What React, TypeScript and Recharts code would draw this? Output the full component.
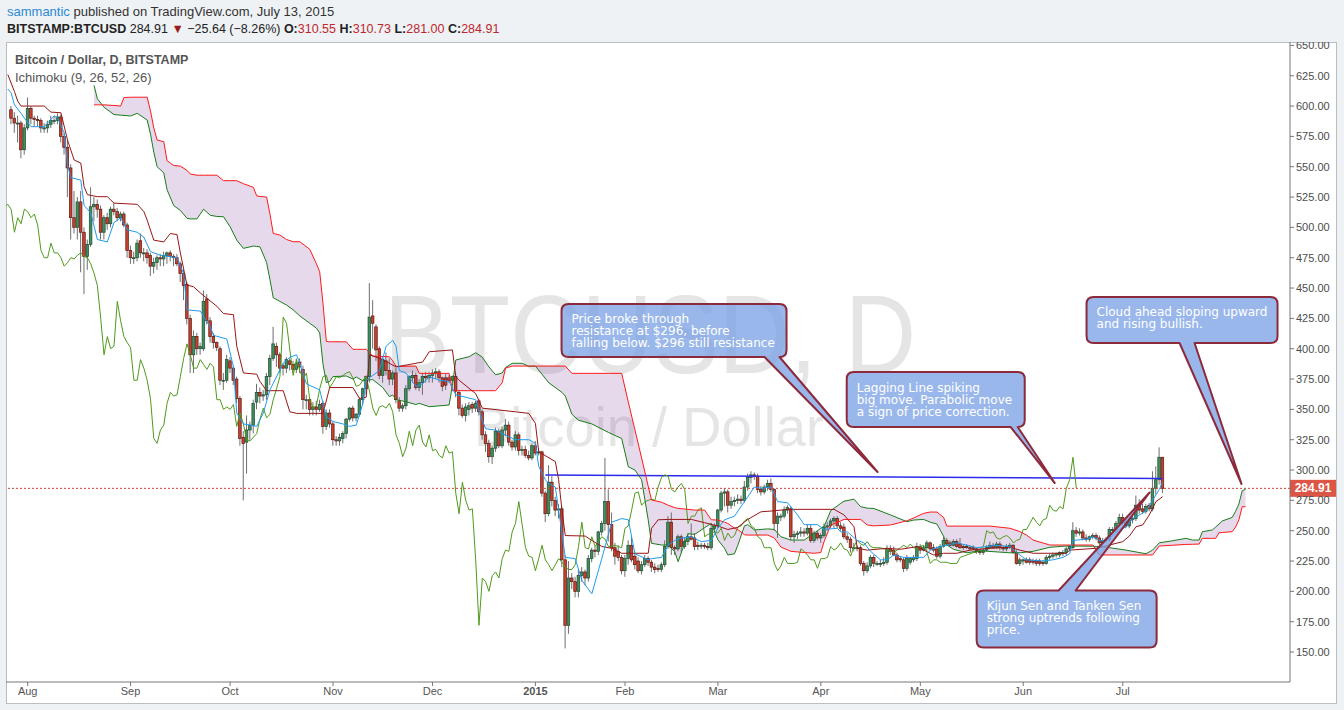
import React from 'react';
import { ComposedChart, Bar, Line, Area, XAxis, YAxis, ReferenceLine, ReferenceDot } from 'recharts';

type Candle = [number, number, number, number]; // open, high, low, close

// BITSTAMP:BTCUSD daily candles
const jul2014: Candle[] = [
  [597, 600, 585, 590], [590, 595, 578, 586], [586, 592, 570, 586], [586, 588, 557, 564], [564, 585, 560, 582],
];
const aug2014: Candle[] = [
  [582, 607, 580, 598], [598, 600, 585, 590], [590, 592, 583, 589], [589, 592, 583, 588], [588, 590, 578, 582],
  [582, 586, 578, 582], [582, 588, 578, 585], [585, 592, 582, 588], [588, 592, 585, 588], [588, 594, 585, 591],
  [591, 593, 570, 575], [575, 578, 560, 566], [566, 572, 525, 549], [549, 552, 490, 508], [508, 530, 495, 500],
  [500, 525, 490, 521], [521, 530, 463, 496], [496, 500, 445, 476], [476, 490, 465, 486], [486, 533, 484, 517],
  [517, 525, 505, 519], [519, 523, 508, 515], [515, 518, 490, 496], [496, 510, 490, 508], [508, 512, 498, 503],
  [503, 517, 500, 515], [515, 520, 510, 513], [513, 516, 505, 508], [508, 513, 505, 511], [511, 513, 500, 502],
  [502, 504, 475, 481],
];
const sep2014: Candle[] = [
  [481, 485, 470, 475], [475, 480, 470, 475], [475, 490, 472, 487], [489, 495, 475, 479], [479, 483, 472, 479],
  [479, 482, 470, 475], [477, 479, 460, 468], [468, 475, 462, 471], [471, 477, 465, 475], [475, 478, 468, 474],
  [474, 480, 468, 477], [477, 480, 470, 479], [479, 481, 472, 476], [476, 478, 468, 475], [475, 478, 468, 470],
  [470, 472, 455, 462], [462, 465, 440, 452], [453, 455, 420, 425], [425, 428, 380, 395], [395, 415, 380, 410],
  [410, 413, 395, 400], [400, 405, 395, 402], [400, 448, 398, 439], [441, 445, 420, 423], [423, 426, 405, 410],
  [410, 413, 400, 405], [405, 406, 398, 401], [400, 402, 370, 374], [374, 380, 366, 374], [374, 395, 372, 391],
];
const oct2014: Candle[] = [
  [390, 393, 380, 384], [384, 386, 370, 374], [375, 377, 355, 359], [359, 361, 320, 326], [327, 332, 275, 322],
  [323, 345, 297, 333], [333, 340, 325, 337], [337, 358, 330, 355], [356, 371, 350, 364], [364, 368, 355, 361],
  [361, 366, 357, 362], [362, 380, 358, 377], [377, 395, 370, 392], [392, 418, 390, 404], [402, 405, 385, 395],
  [395, 397, 380, 384], [386, 388, 378, 384], [384, 393, 380, 391], [390, 392, 382, 387], [387, 390, 380, 383],
  [383, 392, 380, 388], [389, 392, 380, 385], [383, 386, 350, 358], [358, 362, 350, 358], [358, 360, 345, 350],
  [350, 356, 345, 352], [352, 357, 345, 350], [350, 358, 348, 354], [355, 357, 330, 336], [336, 350, 333, 347],
  [347, 350, 335, 338],
];
const nov2014: Candle[] = [
  [338, 340, 320, 325], [325, 328, 320, 324], [324, 330, 320, 327], [326, 332, 322, 330], [330, 343, 326, 342],
  [342, 352, 340, 351], [351, 353, 340, 343], [343, 347, 340, 346], [346, 360, 344, 358], [358, 368, 354, 367],
  [367, 378, 362, 377], [377, 454, 372, 426], [427, 440, 400, 421], [418, 420, 390, 399], [400, 402, 375, 378],
  [378, 393, 372, 391], [390, 397, 378, 382], [382, 392, 370, 375], [375, 382, 370, 380], [380, 384, 355, 358],
  [357, 360, 348, 351], [351, 355, 348, 353], [353, 370, 350, 367], [367, 378, 365, 377], [376, 382, 372, 378],
  [378, 380, 366, 368], [368, 375, 365, 372], [372, 380, 362, 377], [377, 381, 372, 376], [376, 381, 372, 378],
];
const dec2014: Candle[] = [
  [378, 383, 372, 380], [380, 384, 375, 381], [381, 383, 372, 376], [376, 377, 365, 369], [376, 379, 366, 370],
  [376, 378, 372, 374], [374, 378, 372, 377], [377, 380, 360, 365], [364, 366, 345, 351], [351, 354, 343, 345],
  [345, 355, 340, 352], [350, 356, 345, 353], [354, 356, 347, 351], [351, 357, 348, 355], [357, 359, 345, 348],
  [348, 350, 325, 329], [329, 332, 315, 322], [322, 325, 306, 311], [311, 320, 305, 318], [318, 335, 315, 332],
  [332, 334, 318, 320], [320, 336, 318, 333], [333, 342, 328, 337], [337, 340, 320, 323], [323, 325, 316, 319],
  [319, 332, 316, 329], [329, 331, 312, 316], [316, 320, 312, 317], [317, 320, 310, 312], [312, 316, 308, 310],
  [310, 322, 308, 320],
];
// Jan 5-8 missing (exchange halted)
const jan2015: Candle[] = [
  [320, 324, 312, 314], [314, 318, 312, 315], [315, 316, 278, 281], [281, 283, 257, 264],
  [264, 304, 262, 290], [290, 295, 270, 275], [275, 278, 262, 267], [267, 272, 260, 268], [268, 270, 220, 226],
  [226, 230, 153, 172], [172, 225, 165, 211], [211, 215, 202, 208], [208, 212, 195, 200], [200, 218, 195, 213],
  [213, 220, 208, 216], [216, 218, 205, 211], [211, 230, 208, 227], [227, 236, 224, 234], [234, 237, 228, 233],
  [233, 250, 230, 249], [249, 258, 246, 256], [256, 310, 250, 274], [274, 284, 241, 255], [255, 265, 233, 236],
  [236, 240, 222, 229], [233, 238, 225, 228], [228, 230, 214, 217],
];
const feb2015: Candle[] = [
  [217, 230, 212, 227], [227, 242, 222, 238], [238, 245, 224, 226], [229, 232, 218, 222], [225, 228, 215, 217],
  [217, 225, 214, 222], [222, 230, 220, 227], [227, 229, 221, 224], [224, 226, 216, 220], [220, 223, 215, 218],
  [219, 222, 216, 218], [218, 224, 216, 222], [222, 242, 220, 237], [237, 262, 235, 257], [257, 265, 230, 236],
  [236, 238, 230, 235], [235, 247, 233, 245], [245, 247, 232, 237], [237, 244, 235, 241], [241, 248, 238, 245],
  [245, 256, 242, 243], [244, 248, 234, 237], [238, 241, 234, 237], [238, 240, 235, 238], [238, 240, 235, 237],
  [237, 240, 234, 236], [236, 256, 234, 252], [252, 256, 250, 254],
];
const mar2015: Candle[] = [
  [254, 268, 252, 267], [267, 283, 265, 281], [281, 285, 270, 282], [282, 284, 265, 271], [271, 278, 268, 274],
  [274, 278, 270, 275], [275, 280, 272, 276], [276, 279, 272, 275], [275, 291, 273, 286], [286, 297, 283, 294],
  [294, 299, 289, 296], [296, 298, 292, 295], [295, 297, 281, 284], [284, 287, 279, 282], [282, 288, 280, 286],
  [286, 292, 283, 289], [289, 293, 282, 284], [284, 285, 250, 256], [256, 265, 244, 262], [262, 264, 258, 262],
  [262, 270, 260, 267], [267, 271, 264, 269], [268, 270, 242, 245], [245, 250, 240, 247], [247, 250, 243, 248],
  [248, 253, 245, 249], [249, 252, 245, 248], [248, 255, 246, 252], [252, 255, 240, 242], [242, 250, 240, 248],
  [248, 250, 242, 244],
];
const apr2015: Candle[] = [
  [244, 248, 240, 246], [246, 256, 244, 253], [253, 257, 250, 254], [254, 260, 252, 258], [258, 262, 252, 260],
  [260, 262, 252, 254], [254, 257, 250, 252], [253, 256, 243, 245], [245, 248, 240, 243], [243, 245, 232, 236],
  [236, 240, 233, 236], [236, 238, 233, 236], [236, 238, 221, 223], [223, 225, 213, 217], [217, 224, 215, 221],
  [221, 230, 219, 228], [228, 230, 220, 223], [223, 225, 221, 223], [223, 226, 220, 223], [223, 228, 221, 224],
  [224, 238, 222, 235], [235, 238, 230, 233], [234, 237, 229, 230], [230, 232, 224, 226], [227, 229, 224, 226],
  [226, 228, 216, 219], [219, 230, 217, 227], [224, 228, 222, 227], [226, 230, 224, 228], [227, 240, 225, 237],
];
const may2015: Candle[] = [
  [237, 239, 231, 234], [234, 238, 233, 236], [236, 242, 233, 240], [240, 241, 234, 235], [236, 239, 232, 234],
  [235, 237, 227, 229], [229, 239, 227, 237], [237, 245, 236, 242], [242, 244, 238, 239], [240, 242, 237, 238],
  [238, 243, 237, 241], [241, 243, 236, 237], [239, 244, 235, 236], [237, 239, 234, 236], [237, 239, 235, 236],
  [236, 238, 234, 235], [236, 238, 234, 235], [235, 236, 231, 233], [233, 235, 230, 232], [232, 236, 230, 234],
  [234, 238, 233, 236], [236, 241, 235, 238], [238, 240, 235, 236], [236, 241, 235, 239], [239, 241, 234, 236],
  [236, 238, 233, 235], [235, 239, 233, 237], [237, 240, 235, 238], [238, 239, 231, 232], [232, 234, 222, 223],
  [223, 228, 221, 226],
];
const jun2015: Candle[] = [
  [225, 227, 222, 226], [226, 228, 223, 224], [226, 228, 222, 224], [225, 227, 222, 224], [225, 227, 221, 223],
  [225, 227, 221, 223], [224, 226, 221, 223], [223, 230, 222, 228], [228, 231, 226, 229], [229, 232, 227, 230],
  [230, 232, 228, 231], [230, 233, 228, 232], [231, 234, 229, 232], [232, 237, 230, 235], [235, 238, 233, 237],
  [236, 257, 235, 250], [250, 253, 245, 248], [248, 252, 246, 249], [249, 251, 242, 244], [244, 247, 241, 243],
  [243, 246, 241, 245], [245, 248, 243, 246], [246, 248, 242, 244], [244, 246, 238, 240], [240, 244, 238, 242],
  [242, 245, 240, 243], [243, 253, 241, 251], [250, 253, 247, 251], [251, 258, 248, 256], [256, 264, 254, 261],
];
const jul2015: Candle[] = [
  [261, 264, 255, 257], [257, 260, 252, 254], [254, 261, 252, 259], [259, 262, 256, 260], [260, 279, 258, 271],
  [271, 276, 264, 267], [268, 272, 264, 266], [266, 272, 264, 270], [271, 273, 266, 268], [268, 299, 266, 285],
  [285, 303, 280, 292], [292, 318.7, 288, 310.55], [310.55, 310.73, 281, 284.91],
];

const monthCandles = [jul2014, aug2014, sep2014, oct2014, nov2014, dec2014, jan2015, feb2015, mar2015, apr2015, may2015, jun2015, jul2015];
const monthLabels = ['', 'Aug', 'Sep', 'Oct', 'Nov', 'Dec', '2015', 'Feb', 'Mar', 'Apr', 'May', 'Jun', 'Jul'];
const FIRST_BAR = -5;
const LAG = 26;

// Ichimoku lines: [bar, price]
const tenkanPts: [number, number][] = [
  [-6, 614], [-5, 611], [-4, 601], [-2, 594], [-1, 590], [1, 583], [5, 583], [8, 592], [9, 590], [11, 578],
  [12, 551], [13, 541], [16, 539], [17, 518], [19, 512], [21, 490], [24, 488], [26, 504], [28, 508], [30, 498],
  [33, 496], [35, 492], [37, 480], [40, 477], [45, 475], [47, 462], [48, 432], [52, 431], [55, 418], [56, 411],
  [60, 408], [62, 385], [63, 347], [65, 338], [69, 336], [71, 347], [73, 366], [77, 388], [79, 393], [81, 395],
  [82, 388], [84, 371], [88, 366], [90, 344], [92, 340], [95, 338], [97, 336], [99, 337], [101, 355], [102, 374],
  [106, 382], [108, 402], [110, 407], [111, 402], [112, 382], [114, 380], [117, 369], [119, 371], [121, 377], [124, 374],
  [127, 373], [129, 362], [132, 360], [135, 358], [137, 341], [138, 334], [141, 333], [143, 330], [147, 325], [151, 325],
  [153, 322], [154, 303], [156, 292], [157, 289], [159, 286], [160, 267], [161, 248], [162, 228], [165, 227], [167, 209],
  [170, 198], [173, 227], [176, 257], [179, 260], [181, 259], [183, 231], [187, 226], [188, 227], [191, 228], [193, 238],
  [195, 242], [197, 244], [200, 245], [203, 241], [206, 242], [208, 252], [210, 259], [213, 262], [215, 270], [217, 278],
  [219, 286], [221, 285], [224, 286], [226, 274], [229, 273], [232, 263], [234, 255], [238, 255], [240, 251], [244, 252],
  [245, 249], [247, 249], [250, 242], [252, 240], [254, 233], [257, 226], [259, 226], [261, 230], [264, 228], [270, 228],
  [272, 234], [274, 236], [277, 238], [280, 240], [283, 238], [286, 236], [289, 237], [292, 238], [296, 237], [299, 230],
  [301, 226], [306, 225], [309, 226], [312, 228], [314, 231], [315, 242], [319, 243], [321, 245], [323, 242], [325, 242],
  [327, 246], [329, 251], [331, 253], [333, 260], [335, 263], [337, 266], [339, 275], [341, 284], [342, 290],
];
const kijunPts: [number, number][] = [
  [-6, 626], [-4, 612], [-3, 604], [-2, 600], [5, 600], [7, 595], [10, 594.5], [12, 572], [14, 555.5], [16, 553],
  [17, 533.5], [18, 527], [21, 525.3], [24, 525.3], [26, 520], [33, 519], [35, 513], [36, 506], [38, 489.5], [41, 488],
  [43, 495], [45, 494], [46, 479], [48, 452.5], [50, 451], [52, 446], [57, 435], [59, 429], [62, 428], [63, 402],
  [65, 380], [69, 379], [70, 373], [72, 365.4], [77, 365.4], [79, 348], [81, 346.7], [89, 346.7], [91, 368], [98, 368],
  [100, 359], [102, 360], [103, 395], [107, 391], [111, 385], [117, 388], [119, 389], [121, 397.5], [128, 399], [129, 377],
  [130, 374], [135, 363], [137, 351], [142, 349.5], [147, 348], [151, 346.7], [153, 338.5], [154, 315], [159, 307], [160, 292],
  [161, 267], [162, 246], [168, 245.6], [170, 242], [173, 237], [176, 235.5], [179, 231.4], [187, 231.4], [188, 252], [190, 259],
  [193, 259.3], [200, 259.3], [204, 256.6], [208, 253.8], [211, 251], [214, 252.8], [217, 259.3], [221, 265.6], [225, 266.4], [229, 267.6],
  [243, 267.6], [246, 263], [249, 253.3], [250, 235.5], [253, 234], [259, 235.5], [263, 234.7], [268, 236.8], [271, 232.7], [273, 230],
  [276, 231.4], [280, 231.4], [284, 234], [290, 235.5], [296, 236.3], [299, 234], [303, 231.4], [313, 231.4], [314, 234], [322, 235.5],
  [326, 238.2], [330, 241], [332, 245.6], [334, 253.3], [336, 254.7], [338, 263], [340, 274], [342, 278],
];
// leading spans as drawn (already shifted forward): [bar, senkou A, senkou B]
const cloudPts: [number, number, number][] = [
  [20, 617, 601], [21, 606, 601], [23, 599, 601], [26, 593, 600.5], [28, 592.5, 600], [29, 592.3, 607], [31, 591.8, 607.3],
  [33, 594, 607.3], [36, 588.5, 607.3], [37, 577, 596], [38, 562, 582], [39, 550, 572], [41, 545, 570.6], [42, 531, 555],
  [44, 518, 551], [46, 514, 550.5], [48, 507.5, 547], [49, 507, 544], [51, 507, 543], [53, 515, 543], [55, 510, 543],
  [57, 509, 543], [59, 508.8, 538.5], [61, 500.5, 538.5], [63, 489.5, 538.5], [65, 482.7, 536], [68, 484.6, 533], [69, 484.3, 526],
  [70, 484, 525.5], [72, 471, 525], [73, 457, 511], [74, 442, 495], [76, 439, 493.7], [78, 436, 490], [80, 432, 488.2],
  [82, 427, 488.2], [85, 421, 482], [87, 417, 470], [88, 413, 463.4], [89, 387, 437], [90, 372, 406], [91, 373, 405.7],
  [92, 377, 405.7], [96, 377.5, 405.7], [98, 375, 399.5], [99, 376.7, 399.5], [101, 373.5, 399.5], [102, 374, 399.5], [104, 374.5, 394],
  [107, 368, 393.6], [109, 360.5, 393.4], [110, 361.8, 390], [111, 358, 385.5], [114, 356.3, 385.5], [117, 354, 385.7], [118, 355, 379.7],
  [121, 352.2, 379.7], [127, 353.6, 379.7], [128, 370, 365.4], [129, 390.7, 365.4], [133, 393.4, 365.4], [135, 396.7, 365.4], [137, 393, 365.4],
  [139, 385, 365.4], [141, 378.5, 365.4], [143, 380, 372], [144, 384.5, 384], [146, 388, 385.7], [149, 388, 385.7], [151, 385.5, 385.7],
  [153, 385.7, 385.7], [157, 372, 385.7], [161, 364, 385.7], [162, 361, 385.7], [164, 346, 379.7], [166, 341, 379.7], [170, 338, 379.7],
  [175, 331, 379.7], [179, 326, 379.7], [181, 302.7, 356], [183, 300, 333], [185, 292, 310], [187, 258.8, 286.6], [188, 239.6, 275.3],
  [191, 238.2, 273.5], [193, 238.2, 271], [195, 232.7, 269], [196, 224.4, 268.4], [199, 247.5, 267.6], [201, 247, 267], [204, 252.5, 267],
  [206, 256, 259], [208, 242.5, 258.8], [210, 235.5, 257], [211, 230, 256], [213, 231, 252], [214, 238, 251], [216, 254, 246.7],
  [217, 255, 246.4], [219, 250.6, 246.4], [223, 251.5, 246.4], [225, 251, 244], [227, 245, 236.5], [230, 242.3, 233], [234, 242.3, 232],
  [237, 248, 231.4], [239, 252, 232], [240, 253.5, 241], [242, 266.5, 254.7], [245, 272.5, 258], [246, 274.3, 259.3], [249, 276, 259.3],
  [251, 269.8, 259.3], [253, 268.6, 254.7], [255, 268.3, 254], [260, 263, 254.7], [265, 257.4, 258.2], [267, 258.8, 260.5], [270, 259.3, 264.3],
  [272, 257, 265.4], [274, 255.5, 265.4], [276, 245.5, 261], [277, 238.2, 253.8], [279, 234.7, 253.8], [283, 231.8, 253.8], [287, 233.5, 253.8],
  [290, 232.9, 253.8], [296, 231.8, 252], [299, 231.8, 249.3], [301, 232.4, 246.4], [303, 233, 242.3], [308, 236.3, 238.2], [313, 237.4, 238.2],
  [321, 237.2, 238.2], [322, 237, 234], [323, 237, 230], [326, 236, 230], [331, 234, 230], [337, 231, 230], [339, 234, 230],
  [341, 240, 237.4], [345, 241.7, 238], [349, 243.7, 238.7], [351, 242.3, 238.8], [353, 242.3, 239], [354, 249.2, 243.7], [357, 250.6, 243.7],
  [358, 253, 243.7], [359, 255.5, 248.3], [360, 258, 248.5], [363, 261, 249.2], [364, 266, 253], [365, 272, 259], [366, 283, 269.8],
  [367, 284.1, 269.8],
];

const priceTicks = [150, 175, 200, 225, 250, 275, 300, 325, 350, 375, 400, 425, 450, 475, 500, 525, 550, 575, 600, 625, 650];
const resistance = [{ bar: 156, price: 296 }, { bar: 342, price: 293 }];

const notes = [
  { bar: 256.1, price: 298.4, lines: ['Price broke through', 'resistance at $296, before', 'falling below. $296 still resistance'] },
  { bar: 309.5, price: 289.3, lines: ['Lagging Line spiking', 'big move. Parabolic move', 'a sign of price correction.'] },
  { bar: 365.8, price: 288.5, lines: ['Cloud ahead sloping upward', 'and rising bullish.'] },
  { bar: 338.1, price: 281.5, lines: ['Kijun Sen and Tanken Sen', 'strong uptrends following', 'price.'] },
];
// box offsets from the pointer tip, in px
const noteLayout = [
  { dx: -316, dy: -168, w: 225, h: 53, side: 'bottom', b1: -113, b2: -98 },
  { dx: -208, dy: -111, w: 178, h: 55, side: 'bottom', b1: -44, b2: -31 },
  { dx: -155, dy: -187, w: 191, h: 46, side: 'bottom', b1: -62, b2: -47 },
  { dx: -173, dy: 98, w: 180, h: 57, side: 'top', b1: -91, b2: -74 },
];

type Row = { [k: string]: any; bar: number };
const rows = new Map<number, Row>();
const at = (b: number): Row => {
  let r = rows.get(b);
  if (!r) { r = { bar: b }; rows.set(b, r); }
  return r;
};
const monthTicks: { bar: number; label: string }[] = [];
let cursor = FIRST_BAR;
monthCandles.forEach((list, m) => {
  if (monthLabels[m]) monthTicks.push({ bar: cursor, label: monthLabels[m] });
  list.forEach(([o, h, l, c]) => {
    Object.assign(at(cursor), { o, h, l, c, range: [l, h] });
    at(cursor - LAG).lag = c;
    cursor++;
  });
});
tenkanPts.forEach(([b, v]) => { at(b).tenkan = v; });
kijunPts.forEach(([b, v]) => { at(b).kijun = v; });
cloudPts.forEach(([b, a, s]) => { Object.assign(at(b), { spanA: a, spanB: s, cloud: [a, s] }); });
const data = Array.from(rows.values()).sort((p, q) => p.bar - q.bar);
const tickLabel = new Map(monthTicks.map((t) => [t.bar, t.label]));

const last = jul2015[jul2015.length - 1];
const prevClose = jul2015[jul2015.length - 2][3];
const change = last[3] - prevClose;
const changePct = (change / prevClose) * 100;

const FONT = '"Liberation Sans", Arial, sans-serif';

const CandleShape = (props: any) => {
  const { x, y, width, height, payload } = props;
  if (!payload || payload.o == null || !isFinite(y)) return <g />;
  const { o, h, l, c } = payload;
  const ppu = h > l ? height / (h - l) : 0;
  const cx = x + width / 2;
  const yO = y + (h - o) * ppu;
  const yC = y + (h - c) * ppu;
  const up = c >= o;
  const top = Math.min(yO, yC);
  const bh = Math.max(Math.abs(yO - yC), 1);
  return (
    <g>
      <line x1={cx} x2={cx} y1={y} y2={y + height} stroke="#6e6e6e" strokeWidth={1} />
      <rect x={cx - 1.3} y={top} width={2.6} height={bh} fill={up ? '#3f8f5e' : '#c9402e'} stroke={up ? '#1f4a30' : '#5a1a12'} strokeWidth={0.7} />
    </g>
  );
};

const MonthTick = (props: any) => {
  const { x, y, payload } = props;
  const label = tickLabel.get(payload.value) ?? '';
  return (
    <text x={x} y={y + 7} textAnchor="middle" fontSize={11} fill="#555" fontFamily={FONT} fontWeight={label === '2015' ? 700 : 400}>
      {label}
    </text>
  );
};

function calloutPath(x: number, y: number, w: number, h: number, r: number, side: string, b1: number, b2: number, tx: number, ty: number) {
  const lo = Math.max(b1, x + r);
  const hi = Math.min(b2, x + w - r);
  let d = `M${x + r},${y}`;
  if (side === 'top') d += ` L${lo},${y} L${tx},${ty} L${hi},${y}`;
  d += ` L${x + w - r},${y} Q${x + w},${y} ${x + w},${y + r} L${x + w},${y + h - r} Q${x + w},${y + h} ${x + w - r},${y + h}`;
  if (side === 'bottom') d += ` L${hi},${y + h} L${tx},${ty} L${lo},${y + h}`;
  d += ` L${x + r},${y + h} Q${x},${y + h} ${x},${y + h - r} L${x},${y + r} Q${x},${y} ${x + r},${y} Z`;
  return d;
}

const makeCallout = (i: number) => (p: any) => {
  const { cx, cy } = p;
  const L = noteLayout[i];
  const bx = cx + L.dx;
  const by = cy + L.dy;
  const d = calloutPath(bx, by, L.w, L.h, 7, L.side, cx + L.b1, cx + L.b2, cx, cy);
  return (
    <g>
      <path d={d} fill="#7ea3e6" fillOpacity={0.78} stroke="#8c2a3c" strokeWidth={2} strokeLinejoin="round" />
      {notes[i].lines.map((t, k) => (
        <text key={k} x={bx + 10} y={by + 19.5 + k * 12} fill="#ffffff" fontSize={12} fontFamily='"DejaVu Sans", Verdana, sans-serif'>
          {t}
        </text>
      ))}
    </g>
  );
};

const PriceTag = (p: any) => {
  const vb = p.viewBox || {};
  const x = (vb.x ?? 0) + (vb.width ?? 0);
  const y = vb.y ?? 0;
  return (
    <g>
      <rect x={x} y={y - 8.5} width={46} height={17} fill="#dd5544" />
      <text x={x + 23} y={y + 4} textAnchor="middle" fill="#fff" fontSize={12} fontWeight={700} fontFamily={FONT}>
        {last[3].toFixed(2)}
      </text>
    </g>
  );
};

export default function App() {
  const red = { color: '#c0262d' };
  return (
    <div style={{ position: 'absolute', left: 0, top: 0, width: 1344, height: 710, background: '#eff2f5', fontFamily: FONT, overflow: 'hidden' }}>
      <div style={{ position: 'absolute', left: 7, top: 3, fontSize: 13, lineHeight: '17px', color: '#333', whiteSpace: 'nowrap' }}>
        <span style={{ color: '#2a8ad6' }}>sammantic</span> published on TradingView.com, July 13, 2015
      </div>
      <div style={{ position: 'absolute', left: 7, top: 21, fontSize: 12.5, lineHeight: '17px', color: '#222', whiteSpace: 'nowrap' }}>
        <b>BITSTAMP:BTCUSD</b> {last[3].toFixed(2)} <span style={{ color: '#9b1b1b' }}>▼</span> −{Math.abs(change).toFixed(2)} (−{Math.abs(changePct).toFixed(2)}%){' '}
        <b>O:</b><span style={red}>{last[0].toFixed(2)}</span> <b>H:</b><span style={red}>{last[1].toFixed(2)}</span>{' '}
        <b>L:</b><span style={red}>{last[2].toFixed(2)}</span> <b>C:</b><span style={red}>{last[3].toFixed(2)}</span>
      </div>
      <div style={{ position: 'absolute', left: 5.5, top: 41.5, width: 1331, height: 662, background: '#fff', border: '1px solid #b9bec3', boxSizing: 'border-box' }} />
      <svg width={1344} height={710} style={{ position: 'absolute', left: 0, top: 0 }}>
        <text x={384} y={373} fontSize={112} fill="#e5e5e5" fontFamily={FONT} textLength={532} lengthAdjust="spacingAndGlyphs">BTCUSD, D</text>
        <text x={474} y={446} fontSize={55} fill="#e5e5e5" fontFamily={FONT} textLength={350} lengthAdjust="spacingAndGlyphs">Bitcoin / Dollar</text>
      </svg>
      <div style={{ position: 'absolute', left: 15, top: 52, fontSize: 12.5, lineHeight: '17px', color: '#555', fontWeight: 700, whiteSpace: 'nowrap' }}>
        Bitcoin / Dollar, D, BITSTAMP
      </div>
      <div style={{ position: 'absolute', left: 15, top: 69, fontSize: 13, lineHeight: '17px', color: '#555', whiteSpace: 'nowrap' }}>
        Ichimoku (9, 26, 52, 26)
      </div>
      <div style={{ position: 'absolute', left: 6, top: 42 }}>
        <ComposedChart width={1331} height={661} data={data} margin={{ top: 0, right: 0, bottom: 0, left: 0 }} style={{ fontFamily: FONT }}>
          <XAxis
            type="number"
            dataKey="bar"
            domain={[-6.54, 380.4]}
            allowDataOverflow
            ticks={monthTicks.map((t) => t.bar)}
            interval={0}
            tick={<MonthTick />}
            height={21}
            tickSize={4}
            axisLine={{ stroke: '#777' }}
            tickLine={{ stroke: '#777' }}
          />
          <YAxis
            orientation="right"
            domain={[125.3, 652.8]}
            allowDataOverflow
            ticks={priceTicks}
            interval={0}
            width={47}
            tickFormatter={(v: number) => v.toFixed(2)}
            tick={{ fill: '#4d4d4d', fontSize: 11 }}
            tickSize={4}
            tickMargin={2}
            axisLine={{ stroke: '#777' }}
            tickLine={{ stroke: '#777' }}
          />
          <Area dataKey="cloud" type="linear" connectNulls fill="#7b3f99" fillOpacity={0.2} stroke="none" isAnimationActive={false} activeDot={false} />
          <ReferenceLine y={last[3]} stroke="#cc4433" strokeDasharray="2 2" label={<PriceTag />} />
          <ReferenceLine
            segment={resistance.map((r) => ({ x: r.bar, y: r.price }))}
            stroke="#2b2bf0"
            strokeWidth={1.5}
          />
          <Bar dataKey="range" barSize={3} shape={<CandleShape />} isAnimationActive={false} />
          <Line dataKey="lag" type="linear" stroke="#4f9a1c" strokeWidth={1} dot={false} activeDot={false} connectNulls isAnimationActive={false} />
          <Line dataKey="spanA" type="linear" stroke="#1a7d1a" strokeWidth={1} dot={false} activeDot={false} connectNulls isAnimationActive={false} />
          <Line dataKey="spanB" type="linear" stroke="#ff1a1a" strokeWidth={1} dot={false} activeDot={false} connectNulls isAnimationActive={false} />
          <Line dataKey="kijun" type="linear" stroke="#991515" strokeWidth={1} dot={false} activeDot={false} connectNulls isAnimationActive={false} />
          <Line dataKey="tenkan" type="linear" stroke="#1e9bf0" strokeWidth={1} dot={false} activeDot={false} connectNulls isAnimationActive={false} />
          {notes.map((n, i) => (
            <ReferenceDot key={i} x={n.bar} y={n.price} r={0} shape={makeCallout(i)} />
          ))}
        </ComposedChart>
      </div>
    </div>
  );
}
